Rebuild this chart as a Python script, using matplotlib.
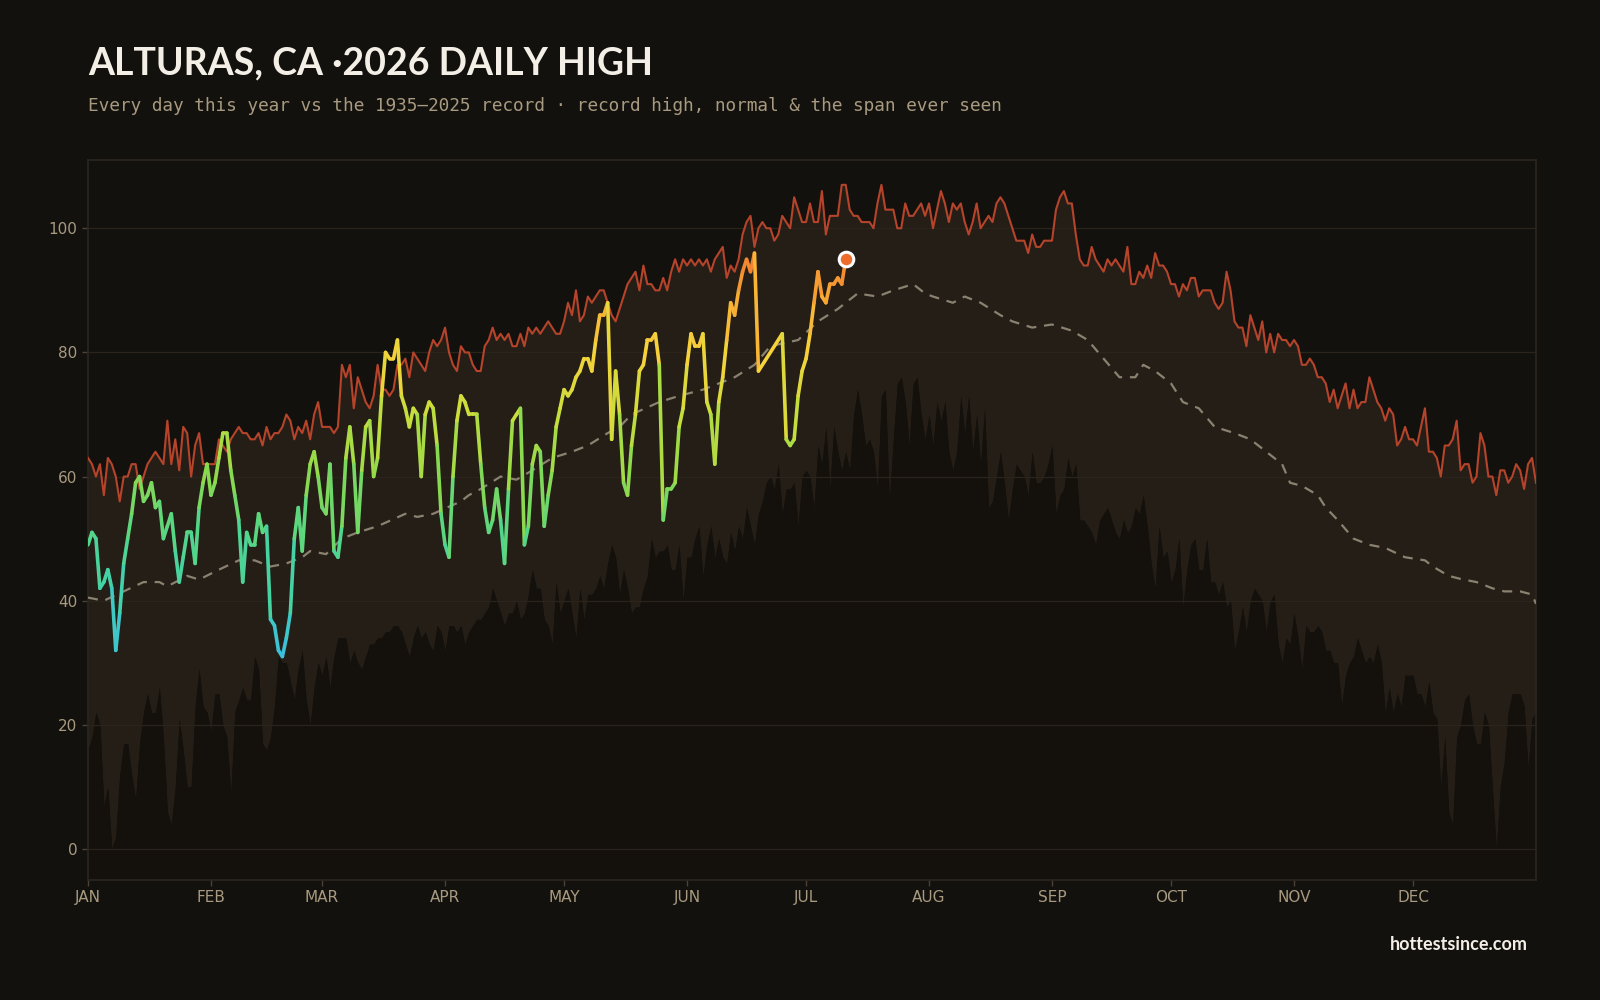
import numpy as np
import matplotlib
matplotlib.use("Agg")
import matplotlib.pyplot as plt
from matplotlib.collections import LineCollection
from matplotlib.colors import LinearSegmentedColormap, Normalize

# ---- data (day of year, 0 = Jan 1) ----
record_high = [
    63, 62, 60, 62, 57, 63, 62, 60, 56, 60, 60, 62, 62, 58, 60, 62, 63, 64, 63, 62,
    69, 62, 66, 61, 68, 67, 60, 65, 67, 62, 62, 62, 62, 66, 65, 64, 66, 67, 68, 67,
    67, 66, 66, 67, 65, 68, 66, 67, 67, 68, 70, 69, 66, 68, 67, 69, 66, 70, 72, 68,
    68,
    68, 67, 68, 78, 76, 78, 71, 76, 74, 72, 71, 73, 78, 74, 74, 73, 74, 78, 78, 79,
    76, 80, 79, 78, 77, 80, 82, 81, 82, 84, 80, 78, 77, 81, 80, 80, 78, 77, 77, 81,
    82, 84, 82, 83, 82, 83, 81, 81, 83, 81, 84, 83, 84, 83, 84, 85, 84, 83,
    83, 85, 88, 86, 90, 85, 86, 89, 88, 89, 90, 90, 88, 86, 85, 87, 89, 91, 92, 93,
    90, 94, 91, 91, 90, 90, 92, 90, 93, 95, 93, 95, 94, 95, 94, 95, 94, 95, 93, 95,
    96, 97, 92, 94, 93, 95, 99, 101, 102, 97, 100, 101, 100, 100, 98, 99, 102, 101, 100, 105,
    103,
    101, 101, 104, 101, 101, 106, 99, 102, 102, 102, 107, 107, 103, 102, 102, 101, 101, 101, 100, 104,
    107, 103, 103, 103, 100, 100, 104, 102, 102, 103, 104, 102, 104, 100, 103, 106, 104, 101, 104, 103,
    104, 101, 99, 101, 104, 100, 101, 102, 101, 104, 105, 104, 102, 100, 98, 98, 98, 96, 99, 97,
    97, 98, 98, 98, 103, 105, 106, 104, 104, 99, 95, 94, 94, 97, 95, 94, 93, 95, 94, 95,
    94, 93, 97, 91, 91, 93, 92, 94, 92, 96, 94, 94, 93, 91, 91, 89, 91, 90, 92, 92,
    89, 90, 90, 90, 88, 87, 88, 93, 90, 85, 84, 84, 81, 86, 84, 82, 85, 80, 83, 80,
    83,
    82, 82, 81, 82, 81, 78, 78, 79, 78, 76, 76, 75, 72, 74, 71, 73, 75, 71, 74, 71,
    72, 72, 76, 74, 72, 71, 69, 71, 70, 65, 66, 68, 66, 66, 65, 68, 71, 64, 64, 63,
    60, 65, 65, 66, 69, 61, 62, 62, 59, 60, 67, 65, 60, 60, 57, 61, 61, 59, 60, 62,
    61, 58, 62, 63, 59,
]

record_low = [
    16, 18, 22, 20, 7, 10, 0, 2, 12, 17, 17, 12, 8, 17, 22, 25, 22, 22, 26, 18,
    6, 4, 10, 21, 16, 10, 10, 23, 29, 23, 22, 19, 25, 25, 20, 18, 9, 22, 24, 26,
    24, 24, 31, 29, 17, 16, 18, 23, 31, 30, 30, 27, 24, 29, 32, 24, 20, 26, 30, 28,
    31,
    26, 31, 34, 34, 34, 30, 32, 30, 29, 31, 33, 33, 34, 34, 35, 35, 36, 36, 35, 33,
    31, 34, 36, 34, 35, 33, 32, 36, 35, 32, 36, 36, 35, 36, 33, 35, 36, 37, 37, 38,
    39, 42, 40, 38, 36, 38, 38, 40, 37, 38, 41, 45, 42, 42, 37, 36, 33, 43,
    38, 40, 42, 38, 34, 42, 37, 41, 41, 42, 44, 42, 46, 49, 47, 41, 45, 42, 38, 39,
    39, 42, 44, 50, 47, 48, 48, 49, 45, 45, 49, 40, 47, 47, 50, 52, 44, 49, 52, 47,
    50, 47, 46, 51, 48, 52, 50, 55, 52, 49, 54, 56, 59, 60, 58, 62, 54, 58, 58, 59,
    52,
    60, 61, 60, 55, 65, 62, 68, 58, 68, 64, 61, 64, 61, 70, 74, 70, 65, 66, 64, 58,
    73, 74, 56, 66, 75, 76, 72, 65, 75, 76, 70, 66, 70, 65, 72, 69, 72, 64, 61, 64,
    73, 67, 73, 64, 70, 62, 71, 55, 56, 60, 64, 59, 53, 58, 62, 61, 60, 57, 64, 59,
    59, 60, 62, 65, 54, 57, 58, 63, 60, 62, 53, 53, 52, 51, 49, 53, 54, 55, 53, 51,
    50, 53, 51, 52, 55, 54, 57, 52, 46, 42, 52, 47, 48, 43, 45, 50, 39, 45, 49, 50,
    45, 45, 50, 43, 43, 41, 43, 39, 40, 32, 35, 39, 35, 40, 42, 41, 40, 35, 40, 41,
    33,
    30, 34, 33, 38, 34, 29, 36, 35, 35, 36, 35, 32, 32, 30, 30, 23, 28, 30, 31, 34,
    32, 30, 31, 30, 33, 30, 22, 26, 22, 25, 23, 28, 28, 28, 25, 25, 23, 27, 22, 21,
    10, 18, 6, 4, 18, 20, 24, 25, 20, 17, 17, 22, 20, 10, 0, 10, 14, 22, 25, 25,
    25, 23, 13, 21, 22,
]

normal_days = [0, 4, 9, 14, 18, 20, 25, 28, 33, 38, 42, 46, 50, 54, 56, 60, 64, 68, 73, 80,
               83, 87, 94, 96, 99, 104, 108, 112, 117, 122, 126, 131, 134, 137, 144, 149, 155, 163, 168, 172,
               179, 184, 189, 194, 199, 203, 208, 211, 213, 218, 221, 225, 230, 233, 238, 243, 248, 252, 256, 260,
               264, 266, 269, 273, 276, 280, 284, 289, 293, 297, 301, 303, 306, 310, 312, 315, 319, 323, 327, 332,
               337, 339, 343, 346, 350, 354, 357, 361, 364, 365]
normal_vals = [40.5, 40, 41.5, 43, 43, 42.3, 44, 43.4, 45, 46.5, 46.5, 45.5, 46, 47, 48, 47.5, 50, 51, 52, 54,
               53.5, 54, 56, 57, 58, 60, 59.5, 61, 63, 64, 65, 67, 68, 70, 72, 73, 74, 76, 78, 81,
               82, 85, 87, 89.5, 89, 90, 91, 89.5, 89, 88, 89, 88, 86, 85, 84, 84.5, 83.5, 82, 79, 76,
               76, 78, 77, 75, 72, 71, 68, 67, 66, 64, 62, 59, 58.5, 57, 55, 53, 50, 49, 48.5, 47,
               46.5, 45.5, 44, 43.5, 43, 42, 41.5, 41.5, 41, 39.5]

# 2026 daily highs, None = no report
highs_2026 = [
    49, 51, 50, 42, 43, 45, 42, 32, 38, 46, 50, 54, 59, 60, 56, 57, 59, 55, 56, 50,
    52, 54, 48, 43, 47, 51, 51, 46, 55, 59, 62, 57, 59, 63, 67, 67, 61, 57, 53, 43,
    51, 49, 49, 54, 51, 52, 37, 36, 32, 31, 34, 38, 50, 55, 48, 57, 62, 64, 60, 55,
    54, 62, 48, 47, 52, 63, 68, 62, 51, 61, 68, 69, 60, 63, 73, 80, 79, 79, 82, 73,
    71, 68, 71, 70, 60, 70, 72, 71, 65, 54, 49, 47, 60, 69, 73, 72, 70, 70, 70, 62,
    55, 51, 53, 58, 53, 46, 58, 69, 70, 71, 49, 52, 62, 65, 64, 52, 57, 61, 68, 71,
    74, 73, 74, 76, 77, 79, 79, 77, 82, 86, 86, 88, 66, 77, 70, 59, 57, 65, 70, 77,
    78, 82, 82, 83, 78, 53, 58, 58, 59, 68, 71, 78, 83, 81, 81, 83, 72, 70, 62, 72,
    76, 82, 88, 86, 90, 93, 95, 93, 96, 77, None, None, None, None, None, 83, 66, 65, 66, 73,
    77, 79, 83, 88, 93, 89, 88, 91, 91, 92, 91, 95,
]

month_starts = [0, 31, 59, 90, 120, 151, 181, 212, 243, 273, 304, 334]
month_labels = ["JAN", "FEB", "MAR", "APR", "MAY", "JUN", "JUL", "AUG", "SEP", "OCT", "NOV", "DEC"]

BG = "#13110d"
BAND = "#241e17"
LOWFILL = "#14110d"
GRID = "#2a241c"
TICKC = "#a89a80"

days = np.arange(len(record_high))
rh = np.array(record_high, dtype=float)
rl = np.array(record_low, dtype=float)

fig = plt.figure(figsize=(16, 10), dpi=100, facecolor=BG)
ax = fig.add_axes([0.055, 0.12, 0.905, 0.72])
ax.set_facecolor(BG)

# span ever seen + area under the record low
ax.fill_between(days, rl, rh, color=BAND, lw=0, zorder=1)
ax.fill_between(days, -10, rl, color=LOWFILL, lw=0, zorder=1)

for yv in range(0, 101, 20):
    ax.axhline(yv, color=GRID, lw=0.9, zorder=2)

ax.plot(days, rh, color="#b5442b", lw=1.5, zorder=3)
ax.plot(normal_days, normal_vals, color="#8b8170", lw=1.6, dashes=(4.5, 3.5), zorder=3)

# 2026 line colored by temperature
cmap = LinearSegmentedColormap.from_list("heat", [
    (0.0, "#3bbde3"), (0.15, "#3fcfb4"), (0.3, "#52d68a"), (0.45, "#8bd94d"),
    (0.6, "#c9de3c"), (0.75, "#f6d23b"), (0.87, "#f8ad35"), (1.0, "#f2752b")])
norm = Normalize(vmin=30, vmax=97)
hx = np.array([d for d, v in enumerate(highs_2026) if v is not None], dtype=float)
hy = np.array([v for v in highs_2026 if v is not None], dtype=float)
pts = np.column_stack([hx, hy]).reshape(-1, 1, 2)
segs = np.concatenate([pts[:-1], pts[1:]], axis=1)
lc = LineCollection(segs, cmap=cmap, norm=norm, linewidths=2.6, capstyle="round",
                    joinstyle="round", zorder=4)
lc.set_array((hy[:-1] + hy[1:]) / 2)
ax.add_collection(lc)
ax.scatter([hx[-1]], [hy[-1]], s=110, color="#ee6c2a", edgecolor="white", linewidth=2.2, zorder=5)

ax.set_xlim(0, 365)
ax.set_ylim(-5, 111)
ax.set_xticks(month_starts)
ax.set_xticklabels(month_labels)
ax.set_yticks(range(0, 101, 20))
ax.tick_params(colors="#4a4237", labelcolor=TICKC, labelsize=11, length=4, width=1)
ax.tick_params(axis="x", pad=3)
for sp in ax.spines.values():
    sp.set_color("#2c2620")
    sp.set_linewidth(1.2)

fig.text(0.055, 0.937, "ALTURAS, CA \u00b72026 DAILY HIGH", color="#f3efe6",
         fontsize=27, fontweight="bold", family="Lato", va="center")
fig.text(0.055, 0.894, "Every day this year vs the 1935\u20132025 record \u00b7 record high, normal & the span ever seen",
         color="#a89a80", fontsize=12.8, family="DejaVu Sans Mono", va="center")
fig.text(0.955, 0.056, "hottestsince.com", color="#f3efe6", fontsize=13, fontweight="bold",
         family="Lato", ha="right", va="center")

fig.savefig("out.png", dpi=100, facecolor=BG)
